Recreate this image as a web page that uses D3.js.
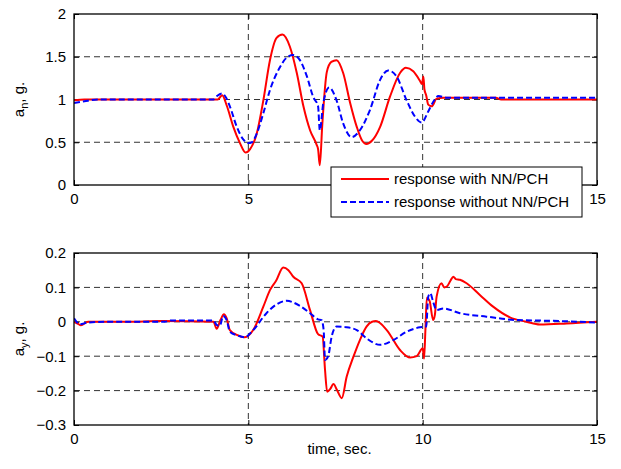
<!DOCTYPE html>
<html>
<head>
<meta charset="utf-8">
<script src="https://cdn.jsdelivr.net/npm/d3@7"></script>
<style>
  html, body { margin: 0; padding: 0; background: #fff; }
  svg { display: block; font-family: "Liberation Sans", Arial, sans-serif; }
</style>
</head>
<body>
<svg id="chart" width="621" height="469"></svg>
<script>
// ---------- data ----------
const xTicks = [0, 5, 10, 15];
const topYTicks = [0, 0.5, 1, 1.5, 2];
const botYTicks = [-0.3, -0.2, -0.1, 0, 0.1, 0.2];
const legendLabels = ["response with NN/PCH", "response without NN/PCH"];

// a_n, response with NN/PCH
const anRedT = [0, 0.3, 4.0, 4.12, 4.25, 4.38, 4.57, 4.76, 4.92, 5.05, 5.24, 5.43, 5.62, 5.81, 5.98, 6.19, 6.39, 6.58, 6.77, 6.96, 7.0, 7.05, 7.12, 7.25, 7.38, 7.53, 7.72, 7.92, 8.11, 8.25, 8.39, 8.55, 8.78, 9.06, 9.35, 9.52, 9.73, 9.92, 9.98, 10.02, 10.05, 10.1, 10.16, 10.26, 10.4, 10.6, 12.1, 12.25, 15];
const anRedV = [0.99, 1.0, 1.0, 1.0, 1.05, 0.93, 0.68, 0.49, 0.38, 0.42, 0.6, 0.99, 1.46, 1.72, 1.76, 1.62, 1.31, 0.92, 0.64, 0.47, 0.42, 0.23, 0.7, 1.32, 1.44, 1.46, 1.31, 0.96, 0.68, 0.53, 0.48, 0.52, 0.68, 1.03, 1.31, 1.37, 1.33, 1.22, 1.18, 1.27, 1.12, 1.05, 0.94, 0.92, 1.01, 1.02, 1.02, 1.0, 1.0];
// a_n, response without NN/PCH
const anBlueT = [0, 0.3, 0.7, 4.0, 4.1, 4.24, 4.35, 4.47, 4.67, 4.86, 5.0, 5.1, 5.24, 5.43, 5.62, 5.91, 6.1, 6.29, 6.48, 6.68, 6.86, 7.0, 7.05, 7.15, 7.32, 7.53, 7.72, 7.96, 8.2, 8.49, 8.78, 9.01, 9.25, 9.54, 9.78, 9.97, 10.16, 10.3, 10.45, 10.7, 15];
const anBlueV = [0.96, 0.98, 1.0, 1.0, 1.04, 1.07, 1.03, 0.92, 0.68, 0.53, 0.49, 0.5, 0.6, 0.84, 1.11, 1.38, 1.49, 1.52, 1.46, 1.27, 1.03, 0.92, 0.64, 0.96, 1.14, 0.99, 0.72, 0.56, 0.64, 0.88, 1.23, 1.34, 1.27, 0.99, 0.8, 0.73, 0.86, 0.97, 1.04, 1.02, 1.02];
// a_y, response with NN/PCH
const ayRedT = [0, 0.1, 0.2, 0.4, 1.5, 2.5, 4.0, 4.09, 4.2, 4.3, 4.38, 4.47, 4.67, 4.9, 5.14, 5.43, 5.62, 5.8, 6.0, 6.15, 6.29, 6.53, 6.77, 7.0, 7.13, 7.2, 7.26, 7.35, 7.44, 7.55, 7.68, 7.82, 8.02, 8.2, 8.39, 8.55, 8.66, 8.97, 9.35, 9.64, 9.83, 10.0, 10.04, 10.08, 10.12, 10.2, 10.3, 10.35, 10.4, 10.54, 10.62, 10.69, 10.8, 10.88, 10.95, 11.07, 11.26, 11.64, 12.02, 12.5, 12.98, 13.36, 14.13, 15];
const ayRedV = [0.0, -0.005, -0.01, 0.0, 0.0, 0.002, 0.0, -0.02, 0.005, 0.022, 0.01, -0.024, -0.038, -0.045, -0.024, 0.044, 0.092, 0.12, 0.158, 0.15, 0.131, 0.112, 0.034, -0.036, -0.043, -0.14, -0.203, -0.195, -0.181, -0.2, -0.222, -0.16, -0.1, -0.053, -0.014, 0.0, 0.002, -0.024, -0.082, -0.104, -0.1, -0.077, -0.107, -0.02, 0.07, 0.06, 0.005, 0.02, 0.073, 0.112, 0.1, 0.102, 0.12, 0.131, 0.124, 0.122, 0.112, 0.078, 0.044, 0.013, 0.0, -0.008, -0.005, 0.0];
// a_y, response without NN/PCH
const ayBlueT = [0, 0.17, 0.4, 1.0, 2.6, 2.8, 4.0, 4.09, 4.18, 4.28, 4.38, 4.47, 4.7, 4.9, 5.14, 5.52, 5.8, 6.1, 6.48, 6.77, 7.0, 7.1, 7.16, 7.2, 7.29, 7.39, 7.53, 7.82, 8.11, 8.39, 8.78, 9.16, 9.54, 9.92, 10.1, 10.16, 10.22, 10.3, 10.4, 10.59, 11.07, 11.83, 12.69, 13.64, 15];
const ayBlueV = [0.01, -0.007, -0.002, 0.0, 0.0, 0.004, 0.004, -0.009, -0.012, 0.017, 0.005, -0.029, -0.04, -0.045, -0.024, 0.025, 0.05, 0.061, 0.046, 0.025, 0.007, 0.005, -0.024, -0.111, -0.1, -0.043, -0.014, -0.016, -0.024, -0.048, -0.067, -0.053, -0.029, -0.016, -0.014, 0.073, 0.083, 0.058, 0.034, 0.039, 0.025, 0.015, 0.005, 0.003, -0.002];

// ---------- layout ----------
const svg = d3.select("#chart");
const L = 74, R = 597;
const panels = [
  { top: 14, bottom: 185, domain: [0, 2], ticks: topYTicks, fmt: d => d3.format("")(d),
    xLabels: [0, 5, 15], // the "10" label sits under the legend in the original
    series: [[anRedT, anRedV, "red"], [anBlueT, anBlueV, "blue"]], label: ["a", "n", ", g."], id: "p1" },
  { top: 253, bottom: 425, domain: [-0.3, 0.2], ticks: botYTicks, fmt: d => d3.format("")(+d.toFixed(1)),
    xLabels: [0, 5, 10, 15],
    series: [[ayRedT, ayRedV, "red"], [ayBlueT, ayBlueV, "blue"]], label: ["a", "y", ", g."], id: "p2" }
];
const x = d3.scaleLinear().domain([0, 15]).range([L, R]);
const tickLen = 5;

panels.forEach(p => {
  const y = d3.scaleLinear().domain(p.domain).range([p.bottom, p.top]);
  const g = svg.append("g");

  // clip
  svg.append("clipPath").attr("id", "clip-" + p.id)
    .append("rect").attr("x", L).attr("y", p.top).attr("width", R - L).attr("height", p.bottom - p.top);

  // grid
  const grid = g.append("g").attr("stroke", "#333").attr("stroke-width", 1).attr("stroke-dasharray", "6,4");
  xTicks.slice(1, -1).forEach(t => grid.append("line").attr("x1", x(t)).attr("x2", x(t)).attr("y1", p.top).attr("y2", p.bottom));
  p.ticks.slice(1, -1).forEach(t => grid.append("line").attr("x1", L).attr("x2", R).attr("y1", y(t)).attr("y2", y(t)));

  // axes (MATLAB-like: ticks inward)
  const axB = d3.axisBottom(x).tickValues(xTicks).tickSize(-tickLen).tickPadding(8)
    .tickFormat(d => p.xLabels.includes(d) ? d : "");
  const axT = d3.axisTop(x).tickValues(xTicks).tickSize(-tickLen).tickFormat("");
  const axLft = d3.axisLeft(y).tickValues(p.ticks).tickSize(-tickLen).tickPadding(8).tickFormat(p.fmt);
  const axRgt = d3.axisRight(y).tickValues(p.ticks).tickSize(-tickLen).tickFormat("");
  [[axB, `translate(0,${p.bottom})`], [axT, `translate(0,${p.top})`], [axLft, `translate(${L},0)`], [axRgt, `translate(${R},0)`]]
    .forEach(([ax, tr]) => {
      const a = g.append("g").attr("transform", tr).call(ax);
      a.select(".domain").remove();
      a.selectAll("line").attr("stroke", "#000");
      a.selectAll("text").filter(function () { return this.textContent === ""; }).remove();
      a.selectAll("text").attr("font-size", 15).attr("fill", "#000").attr("font-family", "Liberation Sans, Arial, sans-serif");
    });

  // lines
  const lineGen = d3.line().x(d => x(d[0])).y(d => y(d[1])).curve(d3.curveMonotoneX);
  const lg = g.append("g").attr("clip-path", `url(#clip-${p.id})`);
  p.series.forEach(([T, V, col]) => {
    const pts = T.map((t, i) => [t, V[i]]);
    lg.append("path").datum(pts).attr("d", lineGen)
      .attr("fill", "none").attr("stroke", col === "red" ? "#ff0000" : "#0000ff")
      .attr("stroke-width", 2)
      .attr("stroke-dasharray", col === "blue" ? "6,3" : null);
  });

  // frame
  g.append("rect").attr("x", L).attr("y", p.top).attr("width", R - L).attr("height", p.bottom - p.top)
    .attr("fill", "none").attr("stroke", "#000").attr("stroke-width", 1.3);

  // y label
  const cy = (p.top + p.bottom) / 2;
  const t = g.append("text").attr("transform", `translate(24,${cy}) rotate(-90)`)
    .attr("text-anchor", "middle").attr("font-size", 15).attr("fill", "#000");
  t.append("tspan").text(p.label[0]);
  t.append("tspan").attr("font-size", 11).attr("dy", 4).text(p.label[1]);
  t.append("tspan").attr("dy", -4).text(p.label[2]);
});

// x label
svg.append("text").attr("x", (L + R) / 2 + 4).attr("y", 454).attr("text-anchor", "middle")
  .attr("font-size", 15).attr("fill", "#000").text("time, sec.");

// legend
const lgd = svg.append("g");
lgd.append("rect").attr("x", 331).attr("y", 167).attr("width", 251).attr("height", 50)
  .attr("fill", "#fff").attr("stroke", "#000").attr("stroke-width", 1);
[["#ff0000", null, 179], ["#0000ff", "6,3", 202]].forEach(([c, dash, yy], i) => {
  lgd.append("line").attr("x1", 341).attr("x2", 389).attr("y1", yy).attr("y2", yy)
    .attr("stroke", c).attr("stroke-width", 2).attr("stroke-dasharray", dash);
  lgd.append("text").attr("x", 394).attr("y", yy + 5).attr("font-size", 15).attr("fill", "#000").text(legendLabels[i]);
});
</script>
</body>
</html>
